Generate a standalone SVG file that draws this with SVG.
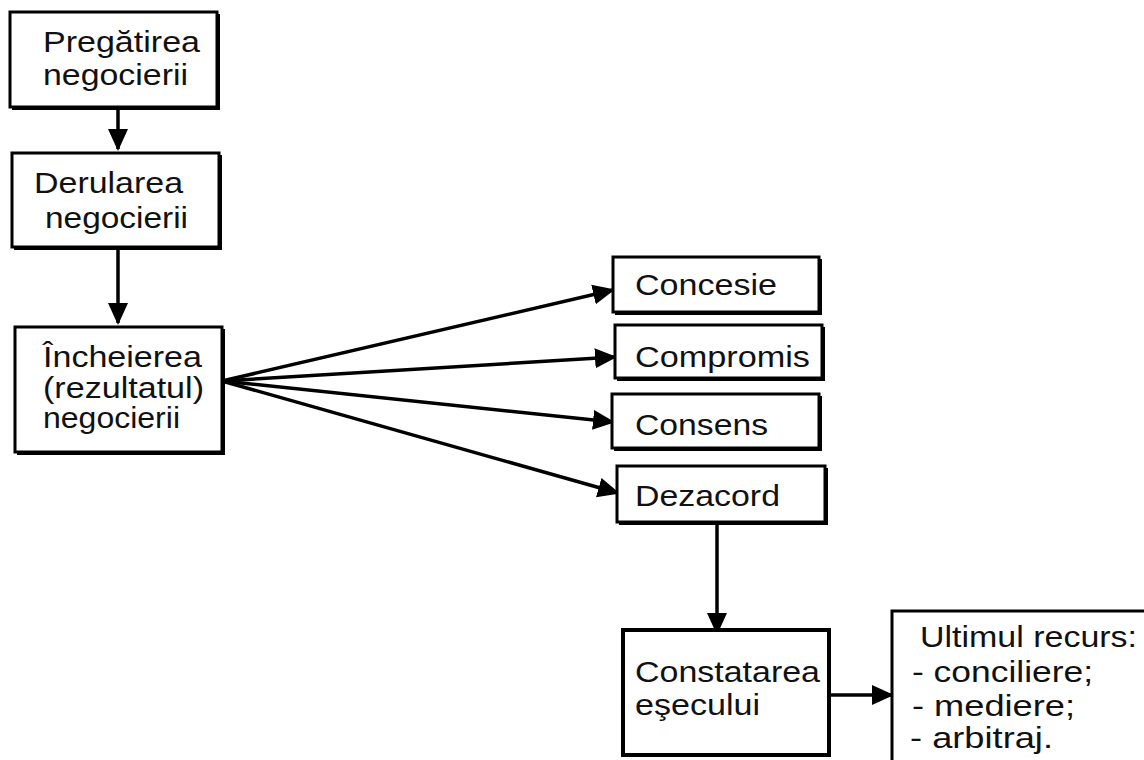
<svg xmlns="http://www.w3.org/2000/svg" width="1144" height="760" viewBox="0 0 1144 760">
<style>
.sh{fill:#000;}
.bx{fill:#fff;stroke:#000;stroke-width:3;}
.bx4{fill:#fff;stroke:#000;stroke-width:4;}
.t{font-family:"Liberation Sans",Arial,sans-serif;font-size:29px;fill:#111;}
.c{stroke:#000;stroke-width:3.5;fill:none;marker-end:url(#ah);}
</style>
<defs>
<marker id="ah" markerUnits="userSpaceOnUse" markerWidth="22" markerHeight="22" viewBox="0 0 22 20" refX="20" refY="10" orient="auto">
<path d="M0,0 L22,10 L0,20 z" fill="#000"/>
</marker>
</defs>
<rect width="1144" height="760" fill="#fff"/>
<g id="connectors">
<line class="c" x1="118" y1="108" x2="118" y2="149"/>
<line class="c" x1="118" y1="248" x2="118" y2="323"/>
<line class="c" x1="222" y1="381" x2="613" y2="290"/>
<line class="c" x1="222" y1="381" x2="615" y2="357"/>
<line class="c" x1="222" y1="381" x2="613" y2="422"/>
<line class="c" x1="222" y1="381" x2="618" y2="493"/>
<line class="c" x1="717" y1="523" x2="717" y2="633"/>
<line class="c" x1="830" y1="695" x2="892" y2="695"/>
</g>
<g id="n1">
<rect class="sh" x="12" y="14" width="208" height="96"/>
<rect class="bx" x="10" y="12" width="207" height="95"/>
<text class="t" x="43" y="52" textLength="157" lengthAdjust="spacingAndGlyphs">Pregătirea</text>
<text class="t" x="43" y="85" textLength="145" lengthAdjust="spacingAndGlyphs">negocierii</text>
</g>
<g id="n2">
<rect class="sh" x="14" y="155" width="208" height="95"/>
<rect class="bx" x="12" y="153" width="207" height="94"/>
<text class="t" x="34" y="193" textLength="149" lengthAdjust="spacingAndGlyphs">Derularea</text>
<text class="t" x="45" y="228" textLength="143" lengthAdjust="spacingAndGlyphs">negocierii</text>
</g>
<g id="n3">
<rect class="sh" x="17" y="329" width="208" height="126"/>
<rect class="bx" x="15" y="327" width="207" height="125"/>
<text class="t" x="43" y="367" textLength="159" lengthAdjust="spacingAndGlyphs">Încheierea</text>
<text class="t" x="43" y="398" textLength="161" lengthAdjust="spacingAndGlyphs">(rezultatul)</text>
<text class="t" x="43" y="428" textLength="137" lengthAdjust="spacingAndGlyphs">negocierii</text>
</g>
<g id="n4">
<rect class="sh" x="615" y="259" width="207" height="56"/>
<rect class="bx" x="613" y="257" width="206" height="55"/>
<text class="t" x="635" y="295" textLength="142" lengthAdjust="spacingAndGlyphs">Concesie</text>
</g>
<g id="n5">
<rect class="sh" x="617" y="327" width="208" height="54"/>
<rect class="bx" x="615" y="325" width="207" height="53"/>
<text class="t" x="635" y="367" textLength="175" lengthAdjust="spacingAndGlyphs">Compromis</text>
</g>
<g id="n6">
<rect class="sh" x="614" y="396" width="208" height="55"/>
<rect class="bx" x="612" y="394" width="207" height="54"/>
<text class="t" x="635" y="435" textLength="133" lengthAdjust="spacingAndGlyphs">Consens</text>
</g>
<g id="n7">
<rect class="sh" x="619" y="468" width="209" height="57"/>
<rect class="bx" x="617" y="466" width="208" height="56"/>
<text class="t" x="635" y="506" textLength="145" lengthAdjust="spacingAndGlyphs">Dezacord</text>
</g>
<g id="n8">
<rect class="bx4" x="623" y="630" width="206" height="125"/>
<text class="t" x="635" y="682" textLength="185" lengthAdjust="spacingAndGlyphs">Constatarea</text>
<text class="t" x="635" y="715" textLength="125" lengthAdjust="spacingAndGlyphs">eşecului</text>
</g>
<g id="n9">
<rect class="bx" x="892" y="611" width="260" height="160"/>
<text class="t" x="920" y="647" textLength="217" lengthAdjust="spacingAndGlyphs">Ultimul recurs:</text>
<text class="t" x="912" y="682" textLength="181" lengthAdjust="spacingAndGlyphs">- conciliere;</text>
<text class="t" x="912" y="716" textLength="163" lengthAdjust="spacingAndGlyphs">- mediere;</text>
<text class="t" x="910" y="748" textLength="143" lengthAdjust="spacingAndGlyphs">- arbitraj.</text>
</g>
</svg>
